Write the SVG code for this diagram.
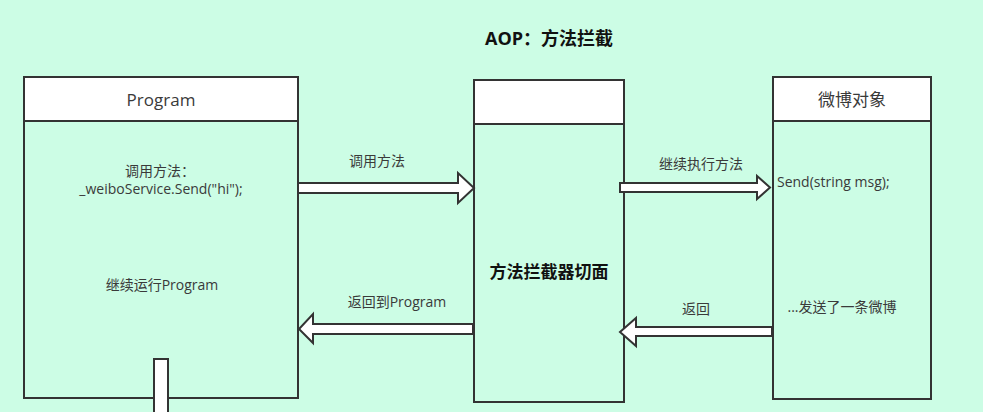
<svg xmlns="http://www.w3.org/2000/svg" width="983" height="412" viewBox="0 0 983 412">
<style>
.box{fill:none;stroke:#333;stroke-width:2}
.hdr{fill:#fff;stroke:#333;stroke-width:2}
.arr{fill:#fff;stroke:#333;stroke-width:2;stroke-linejoin:miter}
text{font-family:"Open Sans","Noto Sans CJK SC",sans-serif;fill:#3a3a3a;font-size:14px;text-anchor:middle}
.b{font-weight:bold;font-size:17px;fill:#111}
.h{font-size:17px}
</style>
<rect x="0" y="0" width="983" height="412" fill="#ccfde5"/>
<text class="b" x="549" y="45" style="font-size:18px">AOP：方法拦截</text>
<g id="program">
<rect class="box" x="24" y="77" width="274" height="321"/>
<rect class="hdr" x="24" y="77" width="274" height="44"/>
<text class="h" x="161" y="106">Program</text>
<text x="160" y="176">调用方法：</text>
<text x="161" y="194">_weiboService.Send("hi");</text>
<text x="162" y="290">继续运行Program</text>
<rect class="arr" x="154" y="359" width="14" height="60"/>
</g>
<g id="interceptor">
<rect class="box" x="474" y="80" width="150" height="322"/>
<rect class="hdr" x="474" y="80" width="150" height="44"/>
<text class="b" x="549" y="278">方法拦截器切面</text>
</g>
<g id="weibo">
<rect class="box" x="773" y="77" width="158" height="322"/>
<rect class="hdr" x="773" y="77" width="158" height="44"/>
<text class="h" x="852" y="106">微博对象</text>
<text x="777" y="187" style="text-anchor:start">Send(string msg);</text>
<text x="842" y="312">...发送了一条微博</text>
</g>
<g id="connectors">
<polygon class="arr" points="298,183 458,183 458,173 474,188 458,203 458,193 298,193"/>
<text x="377" y="166">调用方法</text>
<polygon class="arr" points="620,183 757,183 757,176 770,187.5 757,199 757,192 620,192"/>
<text x="701" y="169">继续执行方法</text>
<polygon class="arr" points="473,324 313,324 313,314 299,329 313,343 313,334 473,334"/>
<text x="397" y="307">返回到Program</text>
<polygon class="arr" points="772,327 636,327 636,318 620,332 636,346 636,336 772,336"/>
<text x="696" y="314">返回</text>
</g>
</svg>
